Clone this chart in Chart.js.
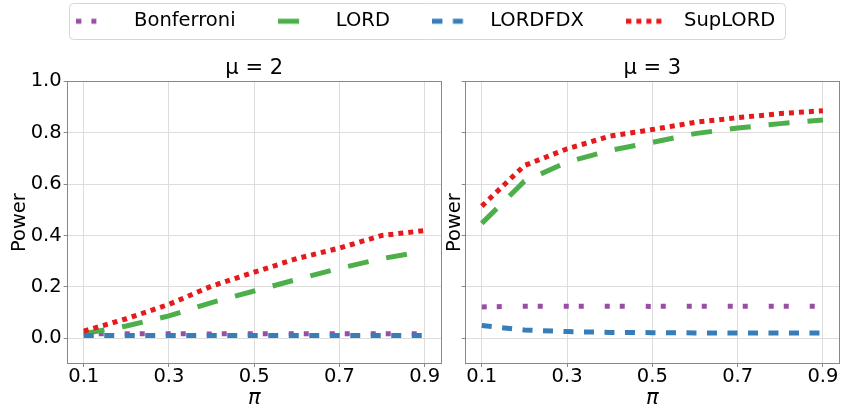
<!DOCTYPE html>
<html><head><meta charset="utf-8">
<script src="https://cdn.jsdelivr.net/npm/chart.js@4"></script>
<style>
html,body{margin:0;padding:0;background:#fff;}
#wrap{position:relative;width:841px;height:411px;overflow:hidden;background:#fff;}
canvas{position:absolute;}
</style></head><body>
<div id="wrap">
<canvas id="legend" width="841" height="200" style="left:0;top:-31px"></canvas>
<canvas id="left" width="455" height="411" style="left:0;top:0"></canvas>
<canvas id="right" width="411" height="411" style="left:430px;top:0"></canvas>
</div>
<script>
// ---- data ----
const piValues = [0.1, 0.2, 0.3, 0.4, 0.5, 0.6, 0.7, 0.8, 0.9];
const piTicks = [0.1, 0.3, 0.5, 0.7, 0.9];
const powerTicks = [0.0, 0.2, 0.4, 0.6, 0.8, 1.0];
const seriesNames = ['Bonferroni', 'LORD', 'LORDFDX', 'SupLORD'];
const panelTitles = ['μ = 2', 'μ = 3'];

// mu = 2
const bonferroniMu2 = [0.017, 0.018, 0.018, 0.017, 0.018, 0.018, 0.018, 0.018, 0.018];
const lordMu2       = [0.018, 0.048, 0.087, 0.139, 0.184, 0.229, 0.272, 0.310, 0.339];
const lordfdxMu2    = [0.011, 0.011, 0.011, 0.011, 0.011, 0.011, 0.011, 0.011, 0.011];
const suplordMu2    = [0.028, 0.076, 0.132, 0.203, 0.257, 0.310, 0.351, 0.400, 0.419];
// mu = 3
const bonferroniMu3 = [0.122, 0.125, 0.125, 0.125, 0.124, 0.125, 0.125, 0.125, 0.125];
const lordMu3       = [0.447, 0.611, 0.685, 0.731, 0.762, 0.796, 0.818, 0.835, 0.849];
const lordfdxMu3    = [0.050, 0.032, 0.026, 0.023, 0.022, 0.021, 0.021, 0.021, 0.021];
const suplordMu3    = [0.514, 0.672, 0.737, 0.786, 0.812, 0.840, 0.858, 0.874, 0.885];

// ---- styles ----
const FONT = "'DejaVu Sans', 'Liberation Sans', sans-serif";
const seriesColors = ['#984ea3', '#4daf4a', '#377eb8', '#e41a1c'];
const seriesDash = [[5, 10, 5, 21], [21, 18], [10, 10.5], [5, 5]];
const GRID = '#dddddd';
const SPINE = '#888888';

function buildDatasets(seriesVals) {
  return seriesNames.map((name, i) => ({
    label: name,
    data: piValues.map((x, k) => ({x: x, y: seriesVals[i][k]})),
    borderColor: seriesColors[i],
    backgroundColor: seriesColors[i],
    borderWidth: 5,
    borderDash: seriesDash[i],
    borderCapStyle: 'butt',
    pointRadius: 0,
    pointHoverRadius: 0,
    fill: false,
    tension: 0,
    order: seriesNames.length - 1 - i
  }));
}

const framePlugin = {
  id: 'frame',
  afterDatasetsDraw(chart) {
    const a = chart.chartArea, ctx = chart.ctx;
    const l = Math.round(a.left) + 0.5, r = Math.round(a.right) - 0.5;
    const t = Math.round(a.top) + 0.5, b = Math.round(a.bottom) - 0.5;
    ctx.save();
    ctx.strokeStyle = SPINE;
    ctx.lineWidth = 1;
    ctx.setLineDash([]);
    ctx.strokeRect(l, t, r - l, b - t);
    ctx.restore();
  }
};

function makePanel(id, title, seriesVals, yWidth, yTitlePad, rightPad, showYLabels) {
  return new Chart(document.getElementById(id), {
    type: 'line',
    data: {datasets: buildDatasets(seriesVals)},
    options: {
      responsive: false, animation: false, events: [],
      layout: {padding: {left: 0, right: rightPad, top: 44, bottom: 0}},
      plugins: {
        legend: {display: false},
        tooltip: {enabled: false},
        title: {
          display: true, text: title, fullSize: false, color: '#000',
          font: {family: FONT, size: 21, weight: 'normal', lineHeight: 1.2},
          padding: {top: 12, bottom: 0}
        }
      },
      scales: {
        x: {
          type: 'linear', min: 0.06, max: 0.94,
          afterBuildTicks: s => { s.ticks = piTicks.map(v => ({value: v})); },
          afterFit: s => { s.height = 47; },
          ticks: {color: '#000', padding: 0, font: {family: FONT, size: 19.5, lineHeight: 1},
                  callback: v => Number(v).toFixed(1)},
          grid: {color: GRID, lineWidth: 1, drawTicks: true, tickLength: 3, tickColor: SPINE},
          border: {display: false},
          title: {display: true, text: 'π', color: '#000',
                  font: {family: FONT, size: 21, style: 'italic', lineHeight: 1.2},
                  padding: {top: 0, bottom: 0}}
        },
        y: {
          type: 'linear', min: -0.1, max: 1.0,
          afterBuildTicks: s => { s.ticks = powerTicks.map(v => ({value: v})); },
          afterFit: s => { s.width = yWidth; },
          ticks: {display: showYLabels, color: '#000', padding: 2,
                  font: {family: FONT, size: 19.5, lineHeight: 1.2},
                  callback: v => Number(v).toFixed(1)},
          grid: {color: GRID, lineWidth: 1, drawTicks: true, tickLength: 3, tickColor: SPINE},
          border: {display: false},
          title: {display: true, text: 'Power', color: '#000',
                  font: {family: FONT, size: 19.5, lineHeight: 1.2},
                  padding: {top: yTitlePad, bottom: 0}}
        }
      }
    },
    plugins: [framePlugin]
  });
}

makePanel('left', panelTitles[0], [bonferroniMu2, lordMu2, lordfdxMu2, suplordMu2], 66.7, 8, 13.3, true);
makePanel('right', panelTitles[1], [bonferroniMu3, lordMu3, lordfdxMu3, suplordMu3], 34.7, 13, 1, false);

// ---- shared legend ----
// legend handle: a 39px line sample followed by a 9px text gap (matplotlib style)
const HANDLE_LEN = 39, HANDLE_BOX = 48;
function handleImage(color, dash) {
  const c = document.createElement('canvas');
  c.width = HANDLE_BOX; c.height = 10;
  const g = c.getContext('2d');
  g.strokeStyle = color; g.lineWidth = 5; g.lineCap = 'butt';
  g.setLineDash(dash);
  g.beginPath(); g.moveTo(0, 5); g.lineTo(HANDLE_LEN, 5); g.stroke();
  return c;
}

const legendFrame = {
  id: 'legendFrame',
  beforeDraw(chart) {
    const lg = chart.legend;
    if (!lg || !lg.legendHitBoxes || !lg.legendHitBoxes.length) return;
    const hb = lg.legendHitBoxes;
    const last = hb[hb.length - 1];
    const x0 = hb[0].left - 7.5, x1 = last.left + last.width + 9.5;
    const yc = hb[0].top + hb[0].height / 2;
    const y0 = Math.round(yc - 18) + 0.5, y1 = Math.round(yc + 18) + 0.5;
    const ctx = chart.ctx;
    ctx.save();
    ctx.beginPath();
    ctx.roundRect(Math.round(x0) + 0.5, y0, Math.round(x1 - x0), y1 - y0, 4);
    ctx.fillStyle = '#ffffff';
    ctx.fill();
    ctx.strokeStyle = '#d6d6d6';
    ctx.lineWidth = 1;
    ctx.stroke();
    ctx.restore();
  }
};

new Chart(document.getElementById('legend'), {
  type: 'line',
  data: {datasets: seriesNames.map((n, i) => ({
    label: n, data: [], borderColor: seriesColors[i], borderWidth: 5, borderDash: seriesDash[i]
  }))},
  options: {
    responsive: false, animation: false, events: [],
    layout: {padding: {left: 10.6, right: 0, top: 0, bottom: 0}},
    scales: {x: {display: false}, y: {display: false}},
    plugins: {
      tooltip: {enabled: false},
      legend: {
        display: true, position: 'top', align: 'center',
        labels: {
          usePointStyle: true, pointStyleWidth: HANDLE_BOX, padding: 42.5, color: '#000',
          font: {family: FONT, size: 19.5},
          generateLabels: chart => chart.data.datasets.map((ds, i) => ({
            text: ds.label, fillStyle: ds.borderColor, strokeStyle: ds.borderColor,
            lineWidth: 5, lineDash: [], pointStyle: handleImage(ds.borderColor, ds.borderDash),
            fontColor: '#000', hidden: false, datasetIndex: i
          }))
        }
      }
    }
  },
  plugins: [legendFrame]
});
</script>
</body></html>
